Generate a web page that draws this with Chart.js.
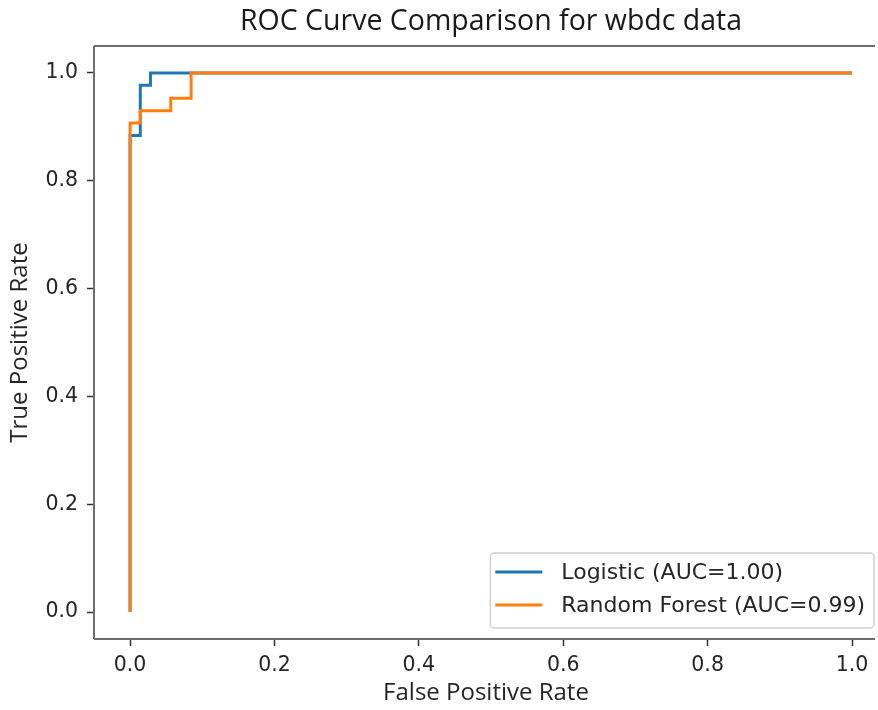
<!DOCTYPE html>
<html>
<head>
<meta charset="utf-8">
<script src="https://cdn.jsdelivr.net/npm/chart.js@4/dist/chart.umd.min.js"></script>
<style>
  html, body { margin: 0; padding: 0; background: #fff; overflow: hidden; }
  #wrap { width: 878px; height: 710px; overflow: hidden; }
</style>
</head>
<body>
<div id="wrap"><canvas id="c" width="878" height="710"></canvas></div>
<script>
// ---- data ----
const titleText = "ROC Curve Comparison for wbdc data";
const xTitle = "False Positive Rate";
const yTitle = "True Positive Rate";
const tickValues = [0.0, 0.2, 0.4, 0.6, 0.8, 1.0];
const xRange = [-0.05, 1.036];   // visible part of the x axis (plot is cropped on the right)
const yRange = [-0.05, 1.05];

const logisticLabel = "Logistic (AUC=1.00)";
const logisticFpr = [0, 0, 0.0141, 0.0141, 0.0282, 0.0282, 1];
const logisticTpr = [0, 0.884, 0.884, 0.977, 0.977, 1, 1];

const rfLabel = "Random Forest (AUC=0.99)";
const rfFpr = [0, 0, 0.0141, 0.0141, 0.0563, 0.0563, 0.0845, 0.0845, 1];
const rfTpr = [0, 0.907, 0.907, 0.930, 0.930, 0.953, 0.953, 1, 1];

const BLUE = "#1f77b4";
const ORANGE = "#ff7f0e";
const TICK_FONT = { family: "'DejaVu Sans'", size: 20.5 };
const LABEL_FONT = { family: "'Open Sans'", size: 24, lineHeight: 1.2 };

function toPoints(xs, ys) { return xs.map((x, i) => ({ x: x, y: ys[i] })); }

const frame = {
  id: "frame",
  afterDraw(chart) {
    const a = chart.chartArea, ctx = chart.ctx;
    const xEnd = a.right - 3;
    ctx.save();
    ctx.strokeStyle = "#6e6e6e";
    ctx.lineWidth = 2;
    ctx.beginPath();
    ctx.moveTo(xEnd, a.top);
    ctx.lineTo(a.left, a.top);
    ctx.moveTo(a.left, a.top);
    ctx.lineTo(a.left, a.bottom);
    ctx.moveTo(a.left, a.bottom);
    ctx.lineTo(xEnd, a.bottom);
    ctx.stroke();
    ctx.restore();
  }
};

const innerLegend = {
  id: "innerLegend",
  afterDraw(chart) {
    const a = chart.chartArea, ctx = chart.ctx;
    ctx.save();
    ctx.font = "22px 'DejaVu Sans'";
    const ds = chart.data.datasets;
    const maxW = Math.max(...ds.map(d => ctx.measureText(d.label).width));
    const rowH = 33;
    const w = 71 + maxW + 9;
    const h = ds.length * rowH + 9;
    const right = a.right - 4, bottom = a.bottom - 11;
    const left = right - w, top = bottom - h;
    ctx.fillStyle = "rgba(255,255,255,0.8)";
    ctx.strokeStyle = "#d0d0d0";
    ctx.lineWidth = 1.5;
    ctx.beginPath();
    ctx.roundRect(left, top, w, h, 4);
    ctx.fill();
    ctx.stroke();
    ds.forEach((d, i) => {
      const y = top + 19 + i * rowH;
      ctx.strokeStyle = d.borderColor;
      ctx.lineWidth = 3;
      ctx.beginPath();
      ctx.moveTo(left + 5, y);
      ctx.lineTo(left + 52, y);
      ctx.stroke();
      ctx.fillStyle = "#262626";
      ctx.textBaseline = "middle";
      ctx.textAlign = "left";
      ctx.fillText(d.label, left + 71, y + 1);
    });
    ctx.restore();
  }
};

const centerTitle = {
  id: "centerTitle",
  afterDraw(chart) {
    const a = chart.chartArea, ctx = chart.ctx;
    const s = chart.scales.x;
    // title is centred over the full (uncropped) axes span -0.05 .. 1.05
    const cx = (s.getPixelForValue(-0.05) + s.getPixelForValue(1.05)) / 2;
    ctx.save();
    ctx.font = "28.5px 'Open Sans'";
    ctx.fillStyle = "#1a1a1a";
    ctx.textAlign = "center";
    ctx.textBaseline = "middle";
    ctx.fillText(titleText, cx, a.top - 24);
    ctx.restore();
  }
};

new Chart(document.getElementById("c"), {
  type: "scatter",
  data: {
    datasets: [
      { label: logisticLabel, data: toPoints(logisticFpr, logisticTpr), showLine: true, order: 2,
        borderColor: BLUE, backgroundColor: BLUE, borderWidth: 3, pointRadius: 0, tension: 0 },
      { label: rfLabel, data: toPoints(rfFpr, rfTpr), showLine: true, order: 1,
        borderColor: ORANGE, backgroundColor: ORANGE, borderWidth: 3, pointRadius: 0, tension: 0 }
    ]
  },
  options: {
    responsive: false,
    animation: false,
    events: [],
    layout: { padding: { left: 0, right: 0, top: 46, bottom: 0 } },
    plugins: {
      legend: { display: false },
      tooltip: { enabled: false },
      title: { display: false }
    },
    scales: {
      x: {
        type: "linear", min: xRange[0], max: xRange[1],
        afterBuildTicks: s => { s.ticks = tickValues.map(v => ({ value: v })); },
        afterFit: s => { s.height = 71; },
        grid: { display: true, drawOnChartArea: false, drawTicks: true, tickLength: 7, tickColor: "#333", tickWidth: 1.5 },
        border: { display: false },
        ticks: { color: "#262626", font: TICK_FONT, padding: 7, maxRotation: 0,
                 callback: v => Number(v).toFixed(1) },
        title: { display: true, text: xTitle, color: "#262626", font: LABEL_FONT,
                 padding: { top: 0, bottom: 2 } }
      },
      y: {
        type: "linear", min: yRange[0], max: yRange[1],
        afterBuildTicks: s => { s.ticks = tickValues.map(v => ({ value: v })); },
        afterFit: s => { s.width = 94; },
        grid: { display: true, drawOnChartArea: false, drawTicks: true, tickLength: 7, tickColor: "#333", tickWidth: 1.5 },
        border: { display: false },
        ticks: { color: "#262626", font: TICK_FONT, padding: 9,
                 callback: v => Number(v).toFixed(1) },
        title: { display: true, text: yTitle, color: "#262626", font: LABEL_FONT,
                 padding: { top: 6, bottom: 0 } }
      }
    }
  },
  plugins: [frame, innerLegend, centerTitle]
});
</script>
</body>
</html>
